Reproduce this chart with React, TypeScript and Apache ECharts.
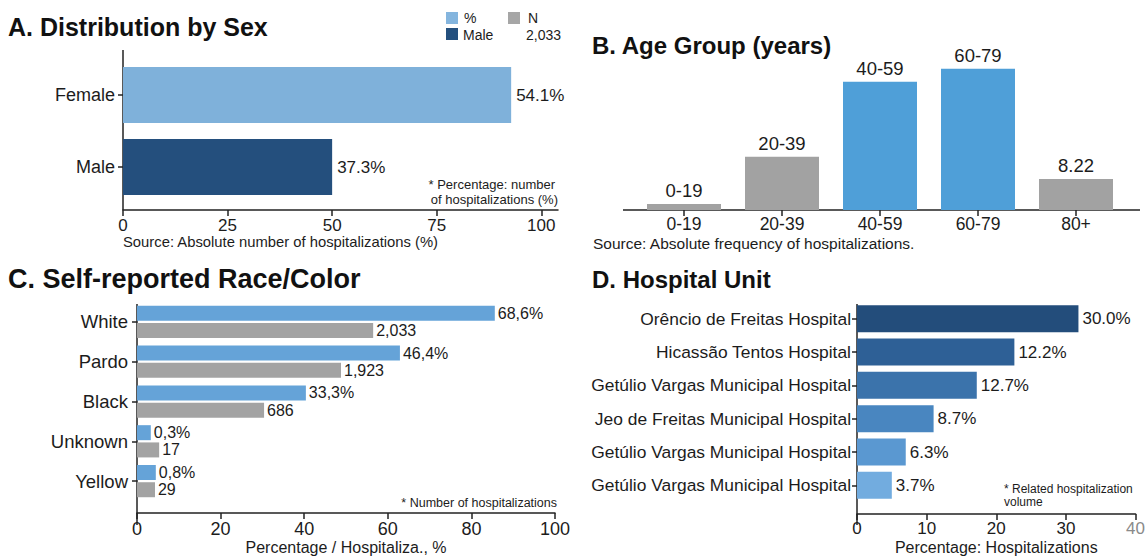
import React, { useEffect, useRef } from 'react';
import * as echarts from 'echarts';

// Panel A
const sexCategories = ['Female', 'Male'];
const sexValues = [92.8, 50];
const sexLabels = ['54.1%', '37.3%'];
const sexColors = ['#7fb1da', '#244f7d'];
const sexTicks = [0, 25, 50, 75, 100];

// Panel B
const ageCategories = ['0-19', '20-39', '40-59', '60-79', '80+'];
const ageValues = [1.6, 14.1, 34.0, 37.4, 8.22];
const ageLabels = ['0-19', '20-39', '40-59', '60-79', '8.22'];
const ageColors = ['#a2a2a2', '#a2a2a2', '#4f9fd8', '#4f9fd8', '#a2a2a2'];

// Panel C
const raceCategories = ['White', 'Pardo', 'Black', 'Unknown', 'Yellow'];
const racePct = [85.6, 62.9, 40.4, 3.3, 4.5];
const racePctLabels = ['68,6%', '46,4%', '33,3%', '0,3%', '0,8%'];
const raceN = [56.5, 48.8, 30.4, 5.3, 4.3];
const raceNLabels = ['2,033', '1,923', '686', '17', '29'];

// Panel D
const unitCategories = [
  'Orêncio de Freitas Hospital',
  'Hicassão Tentos Hospital',
  'Getúlio Vargas Municipal Hospital',
  'Jeo de Freitas Municipal Hospital',
  'Getúlio Vargas Municipal Hospital',
  'Getúlio Vargas Municipal Hospital',
];
const unitValues = [31.8, 22.6, 17.2, 11.0, 7.0, 5.0];
const unitLabels = ['30.0%', '12.2%', '12.7%', '8.7%', '6.3%', '3.7%'];
const unitColors = ['#234d7b', '#2e6096', '#3b73ab', '#4986c0', '#5a98d1', '#72acdf'];

const FONT = "'Liberation Sans', Arial, Helvetica, sans-serif";
const TXT = '#1c1c1c';
const AX = '#222';

export default function App() {
  const ref = useRef<HTMLDivElement>(null);
  useEffect(() => {
    if (!ref.current) return;
    const chart = echarts.init(ref.current, null, { renderer: 'svg' });
    const axisLineStyle = { color: AX, width: 1.5 };
    const titleStyle = (size: number) => ({ fontSize: size, fontWeight: 'bold', color: '#111', fontFamily: FONT });
    const option: any = {
      animation: false,
      backgroundColor: '#ffffff',
      textStyle: { fontFamily: FONT, color: TXT },
      title: [
        { text: 'A. Distribution by Sex', left: 8, top: 14, padding: 0, textStyle: titleStyle(25) },
        { text: 'B. Age Group (years)', left: 592, top: 33, padding: 0, textStyle: titleStyle(24) },
        { text: 'C. Self-reported Race/Color', left: 8, top: 265, padding: 0, textStyle: titleStyle(27) },
        { text: 'D. Hospital Unit', left: 592, top: 267, padding: 0, textStyle: titleStyle(24) },
      ],
      grid: [
        { left: 123, top: 59, width: 435, height: 144 },
        { left: 635, top: 50, width: 490, height: 160 },
        { left: 137, top: 302, width: 418, height: 211 },
        { left: 857, top: 302, width: 279, height: 211 },
      ],
      xAxis: [
        {
          gridIndex: 0, type: 'value', min: 0, max: 104, offset: 7,
          splitLine: { show: false },
          axisLine: { show: true, lineStyle: axisLineStyle },
          axisTick: { show: true, length: 6, customValues: sexTicks, lineStyle: axisLineStyle },
          axisLabel: { customValues: sexTicks, fontSize: 17, color: TXT, margin: 7 },
        },
        {
          gridIndex: 1, type: 'category', data: ageCategories,
          axisLine: { show: false },
          axisTick: { show: true, alignWithLabel: true, length: 6, lineStyle: axisLineStyle },
          axisLabel: { fontSize: 17.5, color: TXT, margin: 5 },
        },
        {
          gridIndex: 2, type: 'value', min: 0, max: 100, interval: 20, offset: 12,
          splitLine: { show: false },
          axisLine: { show: true, lineStyle: axisLineStyle },
          axisTick: { show: true, length: 6, lineStyle: axisLineStyle },
          axisLabel: { fontSize: 18, color: TXT, margin: 7 },
          name: 'Percentage / Hospitaliza., %', nameLocation: 'middle', nameGap: 26,
          nameTextStyle: { fontSize: 16, color: TXT },
        },
        {
          gridIndex: 3, type: 'value', min: 0, max: 40, interval: 10, offset: 12,
          splitLine: { show: false },
          axisLine: { show: true, lineStyle: axisLineStyle },
          axisTick: { show: true, length: 6, lineStyle: axisLineStyle },
          axisLabel: {
            fontSize: 17, color: TXT, margin: 6,
            formatter: (v: number) => (v === 40 ? '{l|40}' : String(v)),
            rich: { l: { fontSize: 17, color: '#8a8a8a' } },
          },
          name: 'Percentage: Hospitalizations', nameLocation: 'middle', nameGap: 25,
          nameTextStyle: { fontSize: 16, color: TXT },
        },
      ],
      yAxis: [
        {
          gridIndex: 0, type: 'category', data: sexCategories, inverse: true,
          axisLine: { show: false },
          axisTick: { show: true, alignWithLabel: true, length: 5, lineStyle: axisLineStyle },
          axisLabel: { fontSize: 18, color: TXT, margin: 8 },
        },
        { gridIndex: 1, type: 'value', min: 0, max: 42.4, show: false },
        {
          gridIndex: 2, type: 'category', data: raceCategories, inverse: true,
          axisLine: { show: false },
          axisTick: { show: true, alignWithLabel: true, length: 5, lineStyle: axisLineStyle },
          axisLabel: { fontSize: 18.5, color: TXT, margin: 9 },
        },
        {
          gridIndex: 3, type: 'category', data: unitCategories, inverse: true,
          axisLine: { show: false },
          axisTick: { show: true, alignWithLabel: true, length: 5, lineStyle: axisLineStyle },
          axisLabel: { fontSize: 17.4, color: TXT, margin: 6 },
        },
      ],
      series: [
        {
          type: 'bar', xAxisIndex: 0, yAxisIndex: 0, barWidth: 56,
          data: sexValues.map((v, i) => ({ value: v, itemStyle: { color: sexColors[i] } })),
          label: { show: true, position: 'right', distance: 5, fontSize: 17, color: TXT, formatter: (p: any) => sexLabels[p.dataIndex] },
        },
        {
          type: 'bar', xAxisIndex: 1, yAxisIndex: 1, barWidth: 74,
          data: ageValues.map((v, i) => ({ value: v, itemStyle: { color: ageColors[i] } })),
          label: { show: true, position: 'top', distance: 4, fontSize: 18.5, color: TXT, formatter: (p: any) => ageLabels[p.dataIndex] },
        },
        {
          type: 'bar', xAxisIndex: 2, yAxisIndex: 2, barWidth: 15, barGap: '15%',
          data: racePct, itemStyle: { color: '#65a3d8' },
          label: { show: true, position: 'right', distance: 3, fontSize: 16, color: TXT, formatter: (p: any) => racePctLabels[p.dataIndex] },
        },
        {
          type: 'bar', xAxisIndex: 2, yAxisIndex: 2, barWidth: 15, barGap: '15%',
          data: raceN, itemStyle: { color: '#a3a3a3' },
          label: { show: true, position: 'right', distance: 3, fontSize: 16, color: TXT, formatter: (p: any) => raceNLabels[p.dataIndex] },
        },
        {
          type: 'bar', xAxisIndex: 3, yAxisIndex: 3, barWidth: 27,
          data: unitValues.map((v, i) => ({ value: v, itemStyle: { color: unitColors[i] } })),
          label: { show: true, position: 'right', distance: 4, fontSize: 17, color: TXT, formatter: (p: any) => unitLabels[p.dataIndex] },
        },
      ],
      graphic: [
        // axis line extensions
        { type: 'line', shape: { x1: 123, y1: 50, x2: 123, y2: 210 }, style: { stroke: AX, lineWidth: 1.5 } },
        { type: 'line', shape: { x1: 623, y1: 210, x2: 1140, y2: 210 }, style: { stroke: AX, lineWidth: 1.5 } },
        { type: 'line', shape: { x1: 137, y1: 304, x2: 137, y2: 525 }, style: { stroke: AX, lineWidth: 1.5 } },
        { type: 'line', shape: { x1: 857, y1: 304, x2: 857, y2: 525 }, style: { stroke: AX, lineWidth: 1.5 } },
        // legend A
        { type: 'rect', shape: { x: 446, y: 12, width: 12, height: 12 }, style: { fill: '#84b5de' } },
        { type: 'rect', shape: { x: 446, y: 28, width: 12, height: 12 }, style: { fill: '#24507e' } },
        { type: 'rect', shape: { x: 508, y: 12, width: 12, height: 12 }, style: { fill: '#a6a6a6' } },
        { type: 'text', style: { text: '%', x: 464, y: 18, fontSize: 14, fontFamily: FONT, fill: TXT, verticalAlign: 'middle' } },
        { type: 'text', style: { text: 'Male', x: 463, y: 35, fontSize: 14, fontFamily: FONT, fill: TXT, verticalAlign: 'middle' } },
        { type: 'text', style: { text: 'N', x: 528, y: 18, fontSize: 14, fontFamily: FONT, fill: TXT, verticalAlign: 'middle' } },
        { type: 'text', style: { text: '2,033', x: 526, y: 35, fontSize: 14, fontFamily: FONT, fill: TXT, verticalAlign: 'middle' } },
        // notes & sources
        { type: 'text', style: { text: '* Percentage: number', x: 555, y: 184, fontSize: 13, fontFamily: FONT, fill: TXT, align: 'right', verticalAlign: 'middle' } },
        { type: 'text', style: { text: 'of hospitalizations (%)', x: 558, y: 199, fontSize: 13, fontFamily: FONT, fill: TXT, align: 'right', verticalAlign: 'middle' } },
        { type: 'text', style: { text: 'Source: Absolute number of hospitalizations (%)', x: 123, y: 242, fontSize: 14.8, fontFamily: FONT, fill: TXT, verticalAlign: 'middle' } },
        { type: 'text', style: { text: 'Source: Absolute frequency of hospitalizations.', x: 593, y: 243, fontSize: 15.5, fontFamily: FONT, fill: TXT, verticalAlign: 'middle' } },
        { type: 'text', style: { text: '* Number of hospitalizations', x: 557, y: 503, fontSize: 12.5, fontFamily: FONT, fill: TXT, align: 'right', verticalAlign: 'middle' } },
        { type: 'text', style: { text: '* Related hospitalization', x: 1004, y: 489, fontSize: 12, fontFamily: FONT, fill: TXT, verticalAlign: 'middle' } },
        { type: 'text', style: { text: 'volume', x: 1004, y: 502, fontSize: 12, fontFamily: FONT, fill: TXT, verticalAlign: 'middle' } },
      ],
    };
    chart.setOption(option);
    return () => chart.dispose();
  }, []);
  return <div ref={ref} style={{ position: 'fixed', left: 0, top: 0, width: 1148, height: 556 }} />;
}
